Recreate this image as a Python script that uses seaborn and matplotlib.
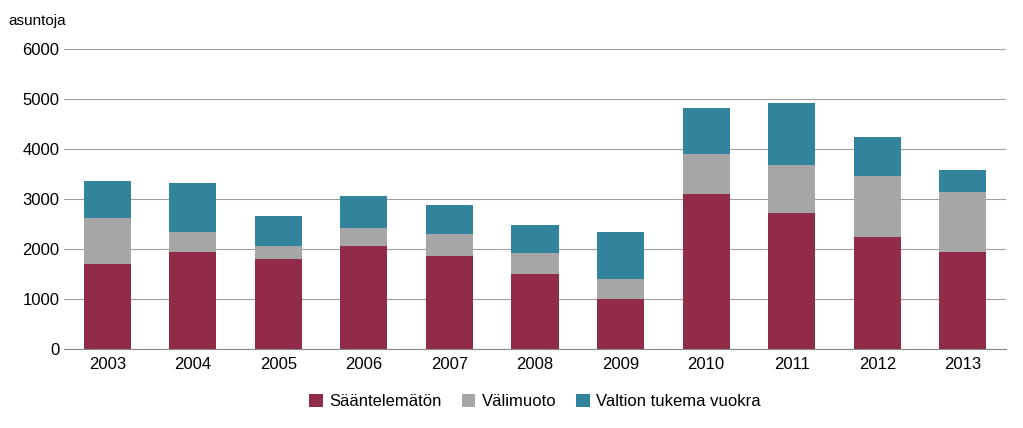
import numpy as np
import pandas as pd
import seaborn as sns
import matplotlib.pyplot as plt

years = ['2003', '2004', '2005', '2006', '2007', '2008', '2009', '2010', '2011', '2012', '2013']
saantelematon = [1690, 1930, 1790, 2050, 1850, 1490, 1005, 3100, 2715, 2235, 1930]
valimuoto = [925, 405, 260, 365, 445, 420, 385, 805, 965, 1225, 1210]
valtion = [745, 985, 605, 645, 585, 565, 945, 925, 1250, 785, 440]

colors = {'Sääntelemätön': '#922B47', 'Välimuoto': '#A6A6A6', 'Valtion tukema vuokra': '#31849B'}

df = pd.DataFrame({'year': years, 'Sääntelemätön': saantelematon,
                   'Välimuoto': valimuoto, 'Valtion tukema vuokra': valtion})

plt.rcParams['font.family'] = 'Liberation Sans'
fig, ax = plt.subplots(figsize=(10.23, 4.28), dpi=100)
fig.subplots_adjust(left=0.063, right=0.983, top=0.885, bottom=0.185)

bottom = np.zeros(len(years))
for name in ['Sääntelemätön', 'Välimuoto', 'Valtion tukema vuokra']:
    vals = df[name].values
    ax.bar(df['year'], vals, bottom=bottom, width=0.55, color=colors[name], label=name)
    bottom += vals

ax.set_ylim(0, 6000)
ax.set_yticks(range(0, 6001, 1000))
ax.yaxis.grid(True, color='#A0A0A0', linewidth=0.8)
ax.set_axisbelow(True)
for s in ['top', 'right', 'left']:
    ax.spines[s].set_visible(False)
ax.spines['bottom'].set_color('#888888')
ax.tick_params(axis='y', length=0, labelsize=12)
ax.tick_params(axis='x', length=0, labelsize=12, pad=6)
ax.set_xlim(-0.5, len(years) - 0.5)
ax.text(-0.06, 1.07, 'asuntoja', transform=ax.transAxes, fontsize=11, va='bottom')
ax.legend(loc='upper center', bbox_to_anchor=(0.5, -0.1), ncol=3, frameon=False,
          fontsize=12, handlelength=0.8, handleheight=0.8, columnspacing=1.2, handletextpad=0.4)
sns.despine(ax=ax, left=True)
fig.savefig('out.png', dpi=100)
